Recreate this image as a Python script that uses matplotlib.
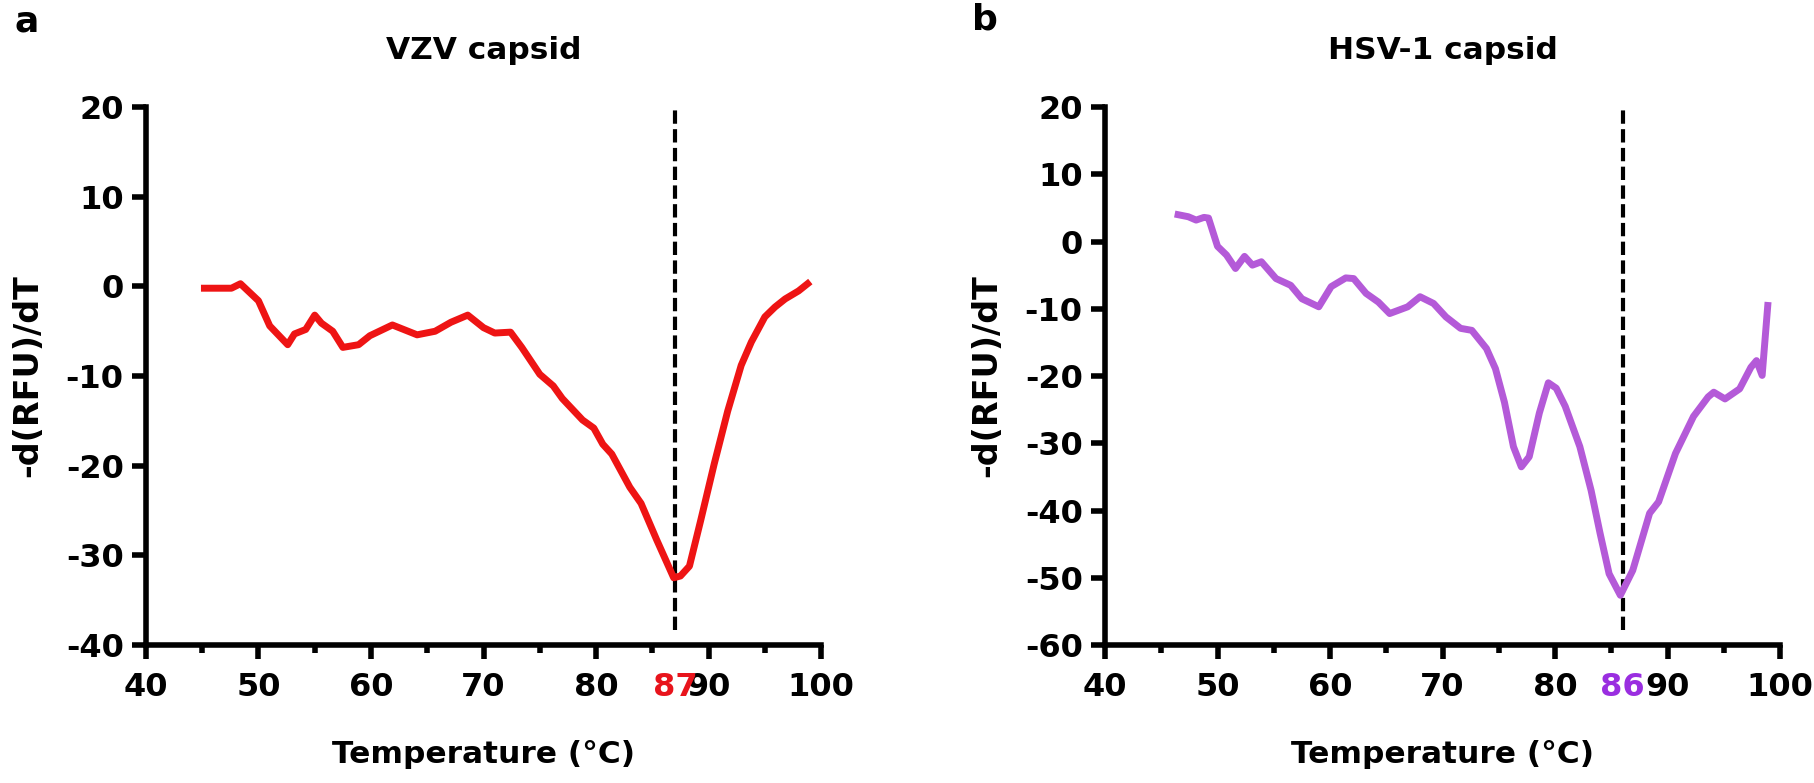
import numpy as np
import matplotlib.pyplot as plt

# VZV capsid melt curve (panel a)
temp_a = [45.2, 47.6, 48.4, 50.0, 51.0, 52.6, 53.2, 54.2, 55.0, 55.6, 56.6, 57.5,
		  58.9, 59.9, 61.9, 64.1, 65.7, 67.1, 68.6, 70.0, 71.0, 72.4, 73.4, 75.0,
		  76.2, 77.0, 78.8, 79.8, 80.6, 81.4, 83.0, 84.0, 85.4, 86.9, 87.5, 88.3,
		  89.3, 90.5, 91.7, 92.9, 93.8, 95.0, 95.9, 96.8, 98.0, 98.8]
dfdt_a = [-0.2, -0.2, 0.3, -1.6, -4.4, -6.5, -5.3, -4.8, -3.2, -4.1, -5.0, -6.8,
		  -6.5, -5.5, -4.3, -5.4, -5.0, -4.0, -3.2, -4.6, -5.2, -5.1, -6.8, -9.8,
		  -11.1, -12.5, -14.9, -15.8, -17.6, -18.7, -22.4, -24.2, -28.3, -32.5, -32.3, -31.2,
		  -26.1, -19.8, -13.9, -8.8, -6.2, -3.4, -2.3, -1.4, -0.5, 0.3]
tm_a = 87

# HSV-1 capsid melt curve (panel b)
temp_b = [46.5, 47.4, 48.1, 48.8, 49.2, 50.0, 50.8, 51.6, 52.4, 53.1, 53.9, 55.2,
		  56.5, 57.5, 59.0, 60.1, 61.4, 62.1, 63.2, 64.3, 65.3, 66.9, 68.0, 69.2,
		  70.3, 71.6, 72.6, 73.9, 74.7, 75.5, 76.3, 77.0, 77.7, 78.6, 79.4, 80.1,
		  80.9, 82.2, 83.2, 84.0, 84.8, 85.8, 86.9, 88.4, 89.2, 90.7, 92.3, 93.6,
		  94.1, 95.1, 96.4, 97.4, 97.9, 98.4, 98.9]
dfdt_b = [4.0, 3.7, 3.2, 3.6, 3.5, -0.7, -2.0, -4.0, -2.2, -3.5, -3.0, -5.5,
		  -6.5, -8.5, -9.7, -6.7, -5.4, -5.5, -7.7, -9.0, -10.7, -9.7, -8.2, -9.2,
		  -11.2, -12.9, -13.2, -15.9, -18.9, -23.9, -30.5, -33.5, -32.0, -25.5, -21.0, -21.8,
		  -24.5, -30.5, -37.0, -43.4, -49.4, -52.6, -48.9, -40.4, -38.7, -31.5, -26.0, -23.1,
		  -22.4, -23.4, -21.9, -18.7, -17.7, -19.9, -9.5]
tm_b = 86

x_ticks = [40, 50, 60, 70, 80, 90, 100]

plt.rcParams['font.family'] = ['DejaVu Sans']
plt.rcParams['font.weight'] = 'bold'
plt.rcParams['axes.unicode_minus'] = False

TICK_LEN = 10
X_PAD = 9.5
TICK_SIZE = 23


def style_axes(ax, y_ticks):

	ax.spines['top'].set_visible(False)
	ax.spines['right'].set_visible(False)
	ax.spines['left'].set_linewidth(4)
	ax.spines['bottom'].set_linewidth(4)

	ax.set_xlim(40, 100)
	ax.set_ylim(y_ticks[0], y_ticks[-1])
	ax.set_xticks(x_ticks)
	ax.set_xticks(np.arange(45, 100, 10), minor = True)
	ax.set_yticks(y_ticks)

	ax.tick_params(which = 'major', length = TICK_LEN, width = 4, labelsize = TICK_SIZE)
	ax.tick_params(axis = 'x', which = 'major', pad = X_PAD)
	ax.tick_params(axis = 'y', which = 'major', pad = 6)
	ax.tick_params(axis = 'x', which = 'minor', length = 5.5, width = 4)

	for lbl in ax.get_xticklabels() + ax.get_yticklabels():
		lbl.set_fontweight('bold')


def plot_panel(ax, temp, dfdt, tm, y_ticks, line_color, tm_color, title):

	ax.plot(temp, dfdt, color = line_color, lw = 5, solid_joinstyle = 'round', zorder = 3)
	ax.axvline(tm, ymin = 0.028, ymax = 1, color = 'black', lw = 3,
			   ls = (0, (3.2, 1.3)), zorder = 2)

	style_axes(ax, y_ticks)

	# melting temperature written on the axis, like an extra tick label
	ax.annotate(str(tm), xy = (tm, 0), xycoords = ('data', 'axes fraction'),
				xytext = (0, -(TICK_LEN + X_PAD)), textcoords = 'offset points',
				ha = 'center', va = 'top', color = tm_color, fontsize = TICK_SIZE,
				fontweight = 'bold', zorder = 5, annotation_clip = False)

	ax.text(0.5, 1.105, title, transform = ax.transAxes, ha = 'center', va = 'center',
			fontsize = 22.5, fontweight = 'bold')

	ax.set_xlabel('Temperature (°C)', fontsize = 22.5, fontweight = 'bold')
	ax.xaxis.set_label_coords(0.5, -0.204)
	ax.xaxis.label.set_va('center')

	ax.set_ylabel('-d(RFU)/dT', fontsize = 24, fontweight = 'bold')
	ax.yaxis.set_label_coords(-0.175, 0.5)
	ax.yaxis.label.set_va('center')


fig = plt.figure(figsize = (18.15, 7.83), dpi = 100)

ax_a = fig.add_axes([0.0804, 0.1762, 0.372, 0.687])
ax_b = fig.add_axes([0.6088, 0.1762, 0.372, 0.687])

plot_panel(ax_a, temp_a, dfdt_a, tm_a, [-40, -30, -20, -10, 0, 10, 20],
		   '#ee1414', '#e8141c', 'VZV capsid')
plot_panel(ax_b, temp_b, dfdt_b, tm_b, [-60, -50, -40, -30, -20, -10, 0, 10, 20],
		   '#b45ad8', '#9a2ee0', 'HSV-1 capsid')

fig.text(27 / 1815, 1 - 22 / 783, 'a', fontsize = 26, fontweight = 'bold', ha = 'center', va = 'center')
fig.text(985 / 1815, 1 - 20 / 783, 'b', fontsize = 26, fontweight = 'bold', ha = 'center', va = 'center')

fig.savefig('out.png', dpi = 100)
